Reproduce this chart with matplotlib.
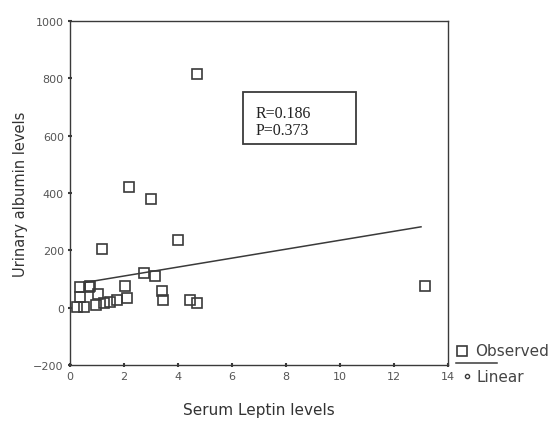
import numpy as np
import matplotlib.pyplot as plt
from matplotlib.lines import Line2D
from matplotlib.patches import Rectangle

# -----------------------------------------------------------------------------
# data

leptin = [4.7, 2.2, 3.0, 1.2, 4.0, 13.15,
          0.36, 0.69, 0.73, 1.03, 2.03, 2.74, 3.15, 3.41, 3.45,
          0.25, 0.51, 0.96, 1.26, 1.49, 1.75, 2.12, 4.45, 4.7, 0.38]
albumin = [815, 420, 380, 204, 236, 75,
           72, 72, 75, 48, 75, 120, 110, 58, 26,
           1, 1, 8, 16, 20, 28, 33, 25, 15, 36]

# linear fit as printed (intercept, slope) and its drawn span
fit_b0 = 79.0
fit_b1 = 15.6
fit_span = [0.55, 13.0]

xticks = [0, 2, 4, 6, 8, 10, 12, 14]
yticks = [-200, 0, 200, 400, 600, 800, 1000]

stats_text = 'R=0.186\nP=0.373'

# -----------------------------------------------------------------------------

ink = '#3a3a3a'

fig = plt.figure(figsize=(5.6, 4.31), dpi=100)
ax = fig.add_axes([0.125, 0.151, 0.675, 0.798])

ax.plot(leptin, albumin, 's', markerfacecolor='none', markeredgecolor=ink,
        markersize=7.5, markeredgewidth=1.2, linestyle='none')

fx = np.array(fit_span)
ax.plot(fx, fit_b0 + fit_b1 * fx, color=ink, linewidth=1.1)

ax.set_xlim(0, 14)
ax.set_ylim(-200, 1000)
ax.set_xticks(xticks)
ax.set_yticks(yticks)
ax.tick_params(direction='inout', length=3, width=1.5, colors=ink,
               labelsize=8, labelcolor='#555555', pad=3)

for s in ax.spines.values():
    s.set_color(ink)
    s.set_linewidth(1.0)

ax.set_xlabel('Serum Leptin levels', fontsize=11, color='#333333',
              labelpad=15)
ax.set_ylabel('Urinary albumin levels', fontsize=10.5, color='#333333',
              labelpad=4)

# R / P box
ax.add_patch(Rectangle((0.458, 0.642), 0.299, 0.152, transform=ax.transAxes,
                       facecolor='white', edgecolor=ink, linewidth=1.3,
                       zorder=3))
ax.text(0.49, 0.757, stats_text, transform=ax.transAxes,
        family='Liberation Serif', fontsize=11.5, color='#222222',
        va='top', ha='left', linespacing=1.15, zorder=4)

# -----------------------------------------------------------------------------
# SPSS style legend at the lower right, outside the frame

fig.add_artist(Line2D([462 / 560], [1 - 352 / 431], marker='s',
                      markerfacecolor='none', markeredgecolor=ink,
                      markersize=7, markeredgewidth=1.2))
fig.text(475 / 560, 1 - 352 / 431, 'Observed', fontsize=11,
         color='#444444', va='center', ha='left')
fig.add_artist(Line2D([456 / 560, 497 / 560], [1 - 364 / 431] * 2,
                      color=ink, linewidth=1.1))
fig.add_artist(Line2D([467 / 560], [1 - 377 / 431], marker='o',
                      markerfacecolor='none', markeredgecolor=ink,
                      markersize=3, markeredgewidth=1.0))
fig.text(477 / 560, 1 - 378 / 431, 'Linear', fontsize=11,
         color='#444444', va='center', ha='left')

plt.savefig('out.png', dpi=100)
